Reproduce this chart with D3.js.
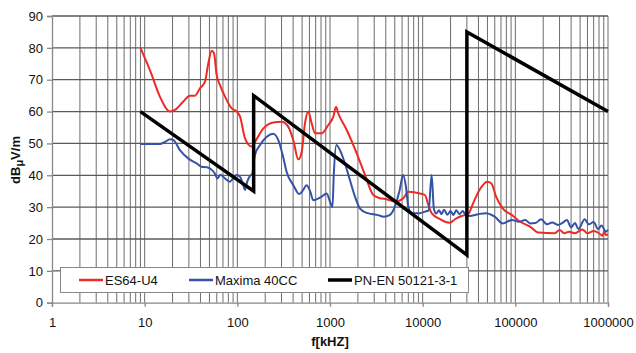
<!DOCTYPE html>
<html>
<head>
<meta charset="utf-8">
<script src="https://cdn.jsdelivr.net/npm/d3@7"></script>
<style>
  html, body { margin: 0; padding: 0; background: #fff; }
  svg { display: block; font-family: "Liberation Sans", Arial, sans-serif; }
</style>
</head>
<body>
<svg id="chart" width="636" height="353"></svg>
<script>
// Emission measurements, frequency in kHz, level in dBµV/m
const redFreq = [9, 11.4, 14.6, 18.8, 21.2, 26, 30.8, 34.9, 39.5, 44.8, 48.6, 52.9, 56, 59.8, 65, 73.6, 86.9, 98.4, 107, 121, 143, 155, 191, 244, 301, 355, 402, 455, 495, 537, 583, 634, 689, 813, 959, 1086, 1161, 1230, 1515, 1941, 2387, 2933, 3460, 4090, 5027, 6180, 7000, 9354, 10600, 11500, 12500, 15400, 17500, 19700, 22300, 26400, 31000, 35000, 41000, 50000, 55000, 62000, 73000, 92000, 113000, 144000, 178000, 265000, 300000, 340000, 380000, 440000, 530000, 600000, 700000, 800000, 870000, 910000, 950000, 1000000];
const redLevel = [80, 73, 64.7, 60, 60.5, 63.1, 65, 65, 67.3, 69.4, 75.1, 79.1, 78.3, 71.5, 68.3, 64.7, 61, 60, 58.4, 51.6, 49, 50.5, 54.7, 56.6, 56.8, 55.2, 51, 45, 47.4, 56.3, 60, 56.3, 53.2, 53.2, 55.8, 58.4, 61.5, 59.4, 54.2, 46.9, 40.1, 33.8, 32.8, 32.5, 31.7, 32.8, 34.8, 34.3, 33.8, 30.7, 28.1, 26.2, 25.4, 25.1, 26.2, 27.2, 27.8, 31.2, 35.4, 38, 37.5, 33.3, 29.6, 27.5, 25.4, 23.9, 22, 21.8, 22.8, 21.8, 22.3, 21.8, 23, 21.8, 22.5, 21.8, 21, 22.3, 21.2, 21.5];

const blueFreq = [9, 14.6, 16.6, 18.8, 20.5, 24, 29.5, 36.5, 41, 47, 52.9, 57, 61, 66, 73.6, 83, 90, 98.4, 107, 116, 121, 128, 137, 145, 150, 155, 176, 208, 244, 276, 312, 340, 402, 466, 514, 560, 610, 660, 720, 813, 920, 1014, 1063, 1100, 1170, 1280, 1450, 1640, 1860, 2100, 2490, 3300, 3800, 4400, 5000, 5650, 6150, 6600, 7000, 7600, 9300, 10600, 11600, 12500, 13200, 14000, 15000, 16000, 17000, 18500, 20000, 21500, 23000, 25000, 27000, 29000, 32000, 40000, 48000, 60000, 73000, 92000, 109000, 128000, 144000, 165000, 190000, 220000, 250000, 288000, 320000, 360000, 400000, 440000, 480000, 560000, 620000, 700000, 780000, 850000, 950000, 1000000];
const blueLevel = [49.8, 49.8, 50.5, 51.3, 51, 47.9, 45.3, 43.7, 42.7, 42.5, 41.7, 40.6, 39, 40.2, 39, 38, 39, 40.1, 39.5, 36.9, 35.4, 38, 39.8, 40.5, 44, 46.4, 49.5, 52.1, 53, 51.1, 45.8, 41.1, 36.9, 34.1, 35.4, 36.9, 35, 32.2, 32.5, 33.3, 34.3, 31.2, 30, 40.6, 49.5, 47.9, 43.7, 38.5, 33.3, 29.6, 28.2, 27.5, 27, 27.5, 30.1, 35.4, 40.1, 36.4, 30.1, 28.1, 28.1, 28.6, 29, 40.1, 29.6, 28, 29, 27.8, 29.2, 27.6, 28.8, 27.5, 29, 27.8, 28.8, 27.6, 27.2, 27.8, 28.1, 27, 24.9, 26, 25.4, 26, 24.9, 25, 26.2, 24.6, 25.2, 24.4, 25, 26, 23.7, 25, 23.1, 26.2, 24.6, 25.3, 23.1, 24.2, 22.3, 22.9];

// Limit line PN-EN 50121-3-1
const limitFreq = [9, 150, 150, 30000, 30000, 1000000];
const limitLevel = [60, 35, 65, 15, 85, 60];

const xTicks = [1, 10, 100, 1000, 10000, 100000, 1000000];
const yTicks = [0, 10, 20, 30, 40, 50, 60, 70, 80, 90];

const seriesNames = ["ES64-U4", "Maxima 40CC", "PN-EN 50121-3-1"];
const seriesColors = ["#ee2a24", "#3453a8", "#000000"];

const svg = d3.select("#chart");
const plotLeft = 52, plotRight = 608, plotTop = 16, plotBottom = 302.7;

const x = d3.scaleLog().domain([1, 1000000]).range([plotLeft, plotRight]);
const y = d3.scaleLinear().domain([0, 90]).range([plotBottom, plotTop]);

// Grid: every minor log step vertically, every 10 dB horizontally
const vGrid = [];
for (let d = 1; d < 1000000; d *= 10) for (let k = 1; k <= 9; k++) vGrid.push(d * k);
vGrid.push(1000000);

const grid = svg.append("g");
grid.selectAll("line.v").data(vGrid.filter(v => v > 1)).join("line")
  .attr("class", "v")
  .attr("x1", d => x(d)).attr("x2", d => x(d))
  .attr("y1", plotTop).attr("y2", plotBottom)
  .attr("stroke", "#6e6e6e").attr("stroke-width", 1);
grid.selectAll("line.h").data(yTicks.filter(v => v > 0)).join("line")
  .attr("class", "h")
  .attr("x1", plotLeft).attr("x2", plotRight)
  .attr("y1", d => y(d)).attr("y2", d => y(d))
  .attr("stroke", "#5a5a5a").attr("stroke-width", 1.3);

// Axes
const yAxis = svg.append("g").attr("transform", `translate(${plotLeft},0)`)
  .call(d3.axisLeft(y).tickValues(yTicks).tickSize(5).tickPadding(4).tickFormat(d3.format("d")));
const xAxis = svg.append("g").attr("transform", `translate(0,${plotBottom})`)
  .call(d3.axisBottom(x).tickValues(xTicks).tickSize(4).tickPadding(11).tickFormat(d3.format("d")));
[yAxis, xAxis].forEach(a => {
  a.selectAll("path.domain").attr("stroke", "#888").attr("stroke-width", 1.3);
  a.selectAll(".tick line").attr("stroke", "#888").attr("stroke-width", 1.3);
  a.selectAll("text").attr("fill", "#111").style("font-size", "13px")
    .style("font-family", "'Liberation Sans', Arial, sans-serif");
});

// Curves
const line = d3.line().x(d => x(d[0])).y(d => y(d[1])).curve(d3.curveMonotoneX);
const redData = d3.zip(redFreq, redLevel);
const blueData = d3.zip(blueFreq, blueLevel);
const limitData = d3.zip(limitFreq, limitLevel);

svg.append("path").datum(redData).attr("d", line)
  .attr("fill", "none").attr("stroke", seriesColors[0]).attr("stroke-width", 2);
svg.append("path").datum(blueData).attr("d", line)
  .attr("fill", "none").attr("stroke", seriesColors[1]).attr("stroke-width", 2);
svg.append("path").datum(limitData)
  .attr("d", d3.line().x(d => x(d[0])).y(d => y(d[1])))
  .attr("fill", "none").attr("stroke", seriesColors[2]).attr("stroke-width", 3.5)
  .attr("stroke-linejoin", "miter");

// Legend
const lg = svg.append("g");
lg.append("rect").attr("x", 60.5).attr("y", 267.5).attr("width", 408).attr("height", 25)
  .attr("fill", "#fff").attr("stroke", "#888").attr("stroke-width", 1);
const legendX = [79, 189, 328];
seriesNames.forEach((name, i) => {
  lg.append("line").attr("x1", legendX[i]).attr("x2", legendX[i] + 24)
    .attr("y1", 280).attr("y2", 280)
    .attr("stroke", seriesColors[i]).attr("stroke-width", i === 2 ? 3.5 : 2.5);
  lg.append("text").attr("x", legendX[i] + 26).attr("y", 284.5)
    .style("font-size", "13px").attr("fill", "#111").text(name);
});

// Axis titles
const yt = svg.append("text")
  .attr("transform", "translate(20,160) rotate(-90)")
  .attr("text-anchor", "middle").style("font-size", "13px").style("font-weight", "bold")
  .attr("fill", "#111");
yt.append("tspan").text("dB");
yt.append("tspan").attr("dy", 2.5).style("font-size", "11px").text("\u03bc");
yt.append("tspan").attr("dy", -2.5).text("V/m");

svg.append("text").attr("x", 330).attr("y", 346).attr("text-anchor", "middle")
  .style("font-size", "13px").style("font-weight", "bold").attr("fill", "#111")
  .text("f[kHZ]");
</script>
</body>
</html>
